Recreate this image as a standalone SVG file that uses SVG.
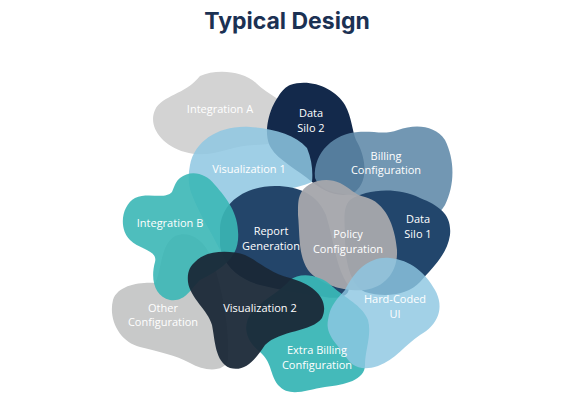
<svg xmlns="http://www.w3.org/2000/svg" width="585" height="413" viewBox="0 0 585 413">
<style>
.t{font-family:"Open Sans","DejaVu Sans",sans-serif;font-size:11px;fill:#ffffff;text-anchor:middle}
.title{font-family:Inter,"DejaVu Sans",sans-serif;font-weight:700;font-size:23px;fill:#1b3153;text-anchor:middle}
</style>
<rect width="585" height="413" fill="#ffffff"/>
<text class="title" x="287" y="29">Typical Design</text>
<g id="blobs">
<g id="integration-a">
<path d="M200,76 C215,69 242,70 256,83 C268,95 285,100 295,115 C305,135 280,145 255,145 C230,145 210,160 185,152 C160,145 148,125 155,110 C162,95 185,95 200,76 Z" fill="#d3d3d3"/>
<text class="t" x="220" y="113">Integration A</text>
</g>
<g id="other-configuration">
<path d="M113,300 C118,285 140,282 155,283 C162,270 160,245 175,236 C190,230 205,240 212,260 C222,285 230,330 228,360 C225,372 205,372 190,363 C175,355 160,352 140,347 C120,342 108,320 113,300 Z" fill="#c8c9c9"/>
<text class="t" x="163" y="312">Other</text>
<text class="t" x="163" y="326">Configuration</text>
</g>
<g id="data-silo-2">
<path d="M290,85 C310,78 335,88 345,105 C352,118 352,130 356,140 C365,155 370,180 355,192 C340,200 322,190 312,182 C298,170 278,160 271,148 C262,132 270,108 278,97 C282,90 286,87 290,85 Z" fill="#13294b"/>
<text class="t" x="311" y="117">Data</text>
<text class="t" x="311" y="132">Silo 2</text>
</g>
<g id="visualization-1">
<path d="M190,165 C195,140 220,125 250,127 C275,129 295,135 307,148 C312,160 313,172 312,182 C295,190 270,190 250,200 C235,210 225,230 220,250 C210,230 200,215 192,195 C188,185 188,175 190,165 Z" fill="#8ec7e2" fill-opacity="0.85"/>
<text class="t" x="249" y="173">Visualization 1</text>
</g>
<g id="billing-configuration">
<path d="M315,178 C313,152 335,133 358,132 C375,131 385,135 398,130 C415,124 435,125 445,140 C455,160 455,185 445,205 C435,222 415,225 398,218 C385,212 375,200 362,197 C345,193 322,195 315,178 Z" fill="#5f89a9" fill-opacity="0.88"/>
<text class="t" x="386" y="160">Billing</text>
<text class="t" x="386" y="174">Configuration</text>
</g>
<g id="report-generation">
<path d="M220,228 C222,200 248,186 275,186 C300,186 318,195 326,215 C334,240 335,265 348,285 C352,295 340,300 325,297 C300,293 280,290 260,285 C240,280 222,265 220,245 Z" fill="#23456a"/>
<text class="t" x="271" y="235">Report</text>
<text class="t" x="271" y="250">Generation</text>
</g>
<g id="data-silo-1">
<path d="M350,200 C365,190 395,186 420,198 C440,206 452,215 450,235 C447,255 432,268 420,282 C408,295 385,298 365,292 C350,285 345,260 345,240 C345,222 342,208 350,200 Z" fill="#22466c"/>
<text class="t" x="418" y="223">Data</text>
<text class="t" x="418" y="238">Silo 1</text>
</g>
<g id="policy-configuration">
<path d="M300,195 C305,182 325,176 340,183 C350,188 355,195 365,197 C385,202 395,225 397,250 C398,272 385,287 365,290 C345,292 320,285 308,270 C298,255 300,235 298,215 C298,205 298,200 300,195 Z" fill="#a5a7ac" fill-opacity="0.96"/>
<text class="t" x="348" y="238">Policy</text>
<text class="t" x="348" y="253">Configuration</text>
</g>
<g id="extra-billing-configuration">
<path d="M290,280 C300,272 320,274 333,287 C345,298 362,305 368,320 C372,335 365,350 365,365 C365,380 345,385 325,387 C305,390 290,398 278,385 C270,375 272,362 260,352 C245,340 242,325 252,312 C262,300 280,292 290,280 Z" fill="#3ab6b6" fill-opacity="0.95"/>
</g>
<g id="integration-b">
<path d="M180,178 C190,170 205,172 215,185 C228,200 240,215 238,240 C236,262 215,272 200,280 C190,290 185,302 170,300 C155,297 150,280 155,262 C158,250 140,250 130,240 C118,228 122,205 135,198 C148,192 165,200 172,192 C175,185 176,181 180,178 Z" fill="#3bb7b6" fill-opacity="0.9"/>
<text class="t" x="170" y="227">Integration B</text>
</g>
<g id="visualization-2">
<path d="M195,262 C205,250 230,250 245,255 C260,262 268,272 290,278 C315,285 330,300 322,318 C312,332 280,330 265,345 C255,360 245,372 230,368 C215,362 215,340 212,325 C208,310 190,298 188,282 C187,272 190,266 195,262 Z" fill="#1a2736" fill-opacity="0.94"/>
<text class="t" x="260" y="312">Visualization 2</text>
</g>
<g id="hard-coded-ui">
<path d="M345,290 C355,270 370,256 390,258 C410,260 425,272 435,290 C445,308 438,325 420,335 C405,345 395,360 378,366 C360,372 350,365 345,355 C338,345 325,335 328,320 C330,305 338,298 345,290 Z" fill="#8ec7e2" fill-opacity="0.82"/>
<text class="t" x="395" y="303">Hard-Coded</text>
<text class="t" x="395" y="318">UI</text>
</g>
<g id="extra-billing-label">
<text class="t" x="317" y="354">Extra Billing</text>
<text class="t" x="317" y="369">Configuration</text>
</g>
</g>
<g id="connectors"></g>
</svg>
